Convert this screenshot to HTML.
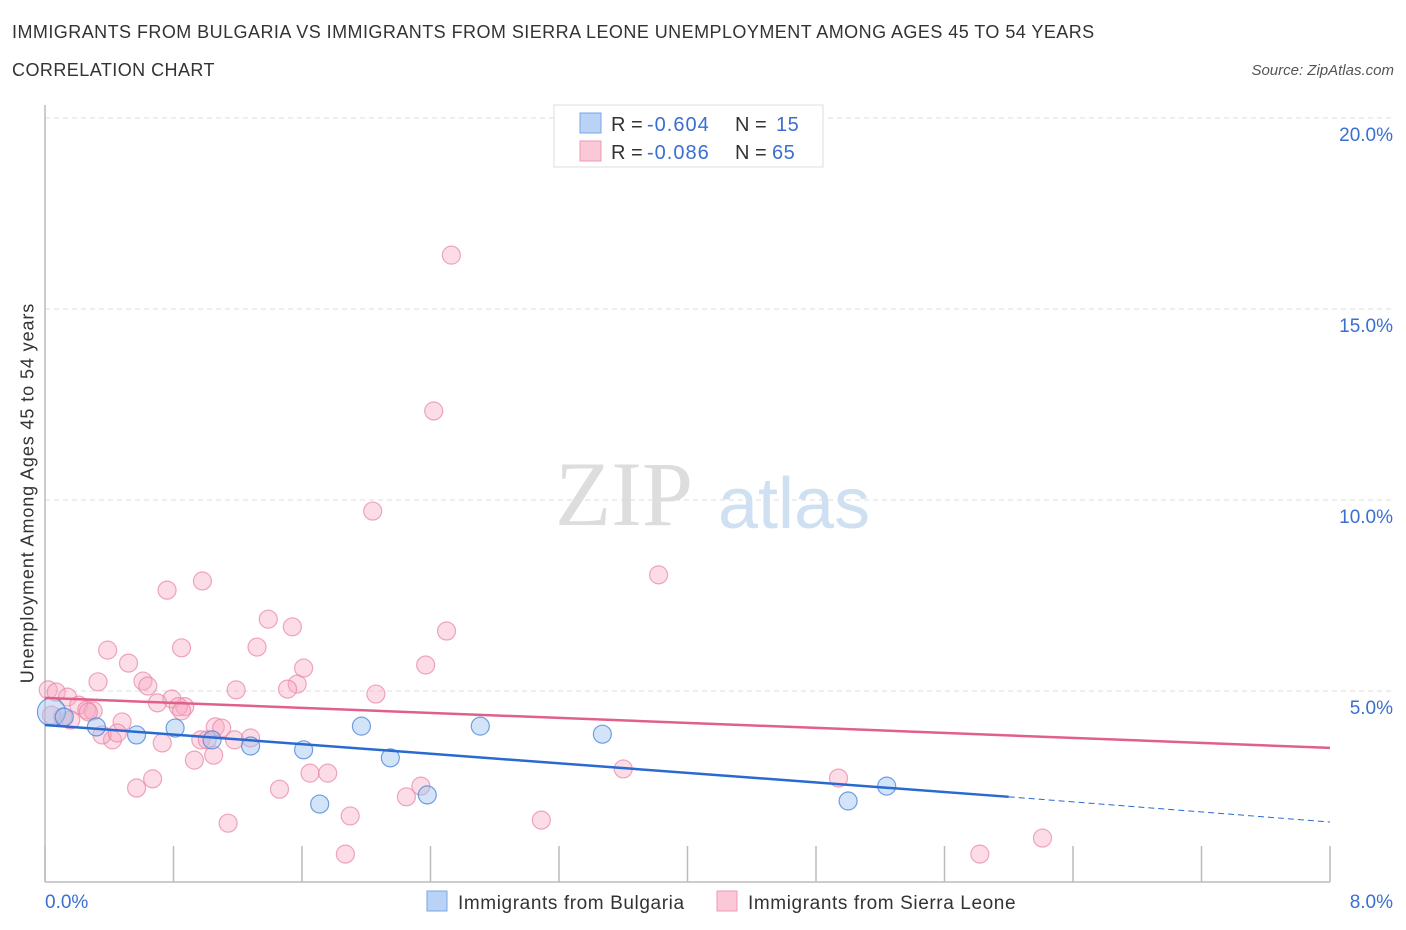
<!DOCTYPE html>
<html><head><meta charset="utf-8">
<style>
body{margin:0;background:#fff;font-family:"Liberation Sans",sans-serif;}
#wrap{position:relative;width:1406px;height:930px;overflow:hidden;}
.t{position:absolute;white-space:nowrap;}
</style></head>
<body>
<div id="wrap">
<div class="t" style="left:12px;top:22px;font-size:18px;letter-spacing:0.45px;color:#333;">IMMIGRANTS FROM BULGARIA VS IMMIGRANTS FROM SIERRA LEONE UNEMPLOYMENT AMONG AGES 45 TO 54 YEARS</div>
<div class="t" style="left:12px;top:60px;font-size:18px;letter-spacing:0.45px;color:#333;">CORRELATION CHART</div>
<div class="t" style="right:12px;top:62px;font-size:15px;color:#555;font-style:italic;">Source: ZipAtlas.com</div>
<svg id="chart" width="1406" height="930" style="position:absolute;left:0;top:0"></svg>
<div class="t" style="left:28px;top:493px;font-size:18px;letter-spacing:0.9px;color:#333;transform:translate(-50%,-50%) rotate(-90deg);">Unemployment Among Ages 45 to 54 years</div>
</div>
<script>
const xTicks=[0,0.8,1.6,2.4,3.2,4.0,4.8,5.6,6.4,7.2,8.0];
const yTicks=[5,10,15,20];
const yTickLabels=["5.0%","10.0%","15.0%","20.0%"];
const xEndLabels=["0.0%","8.0%"];
const pinkX=[0.02,0.07,0.14,0.21,0.26,0.30,0.11,0.16,0.27,0.33,0.39,0.52,0.61,0.64,0.79,0.76,0.98,0.85,0.70,0.48,0.42,0.355,0.57,0.67,0.73,0.87,0.83,0.97,1.01,1.06,1.10,1.05,0.93,1.14,1.19,1.32,1.39,1.54,1.61,1.57,1.51,1.18,1.28,1.46,1.65,1.76,1.90,1.87,2.04,2.06,2.25,2.34,2.37,2.50,2.42,2.53,3.09,3.60,3.82,4.94,5.82,6.21,0.45,0.04,0.85];
const pinkY=[5.03,4.97,4.84,4.63,4.50,4.48,4.32,4.24,4.45,5.24,6.07,5.73,5.26,5.13,4.79,7.64,7.88,6.13,4.69,4.19,3.72,3.85,2.46,2.70,3.64,4.59,4.59,3.72,3.72,4.06,4.03,3.32,3.19,1.54,5.03,6.15,6.88,6.68,5.60,5.18,5.05,3.72,3.77,2.43,2.85,2.85,1.73,0.73,9.71,4.92,2.23,2.51,5.68,6.57,12.33,16.41,1.62,2.96,8.04,2.72,0.73,1.15,3.90,4.37,4.48];
const blueX=[0.04,0.12,0.32,0.57,0.81,1.04,1.28,1.61,1.71,1.97,2.15,2.38,2.71,3.47,5.00,5.24];
const blueY=[4.45,4.32,4.06,3.85,4.03,3.72,3.56,3.46,2.04,4.08,3.25,2.28,4.08,3.87,2.12,2.51];
const pinkTrend=[[0,4.82],[8,3.51]];
const blueTrend=[[0,4.11],[6.0,2.23],[8,1.57]];

const svg=document.getElementById('chart');
const NS='http://www.w3.org/2000/svg';
const X0=45,X1=1330,Y0=882,PPY=38.2;
const sx=v=>X0+(v/8)*(X1-X0);
const sy=v=>Y0-v*PPY;
function mk(tag,attrs,parent){const e=document.createElementNS(NS,tag);for(const k in attrs)e.setAttribute(k,attrs[k]);(parent||svg).appendChild(e);return e;}

let wm=mk('text',{x:555,y:525,'font-size':92,'font-family':'Liberation Serif,serif',fill:'#ddd'});


wm.textContent='ZIP';
let wm2=mk('text',{x:718,y:528,'font-size':72,'font-family':'Liberation Sans,sans-serif',fill:'#cfe0f3'});


wm2.textContent='atlas';

yTicks.forEach((v,i)=>{
 let g=mk('line',{x1:X0,x2:1395,y1:sy(v),y2:sy(v),stroke:'#ddd','stroke-dasharray':'5,4'});
 
 
 let t=mk('text',{x:1393,y:sy(v)+23,'text-anchor':'end','font-size':19,fill:'#3a6fd0','font-family':'Liberation Sans,sans-serif'});
 
 
 t.textContent=yTickLabels[i];
});
let ax=mk('line',{x1:X0,x2:X0,y1:105,y2:Y0,stroke:'#bbb','stroke-width':1.5});


let axx=mk('line',{x1:X0,x2:X1,y1:Y0,y2:Y0,stroke:'#bbb','stroke-width':1.5});


xTicks.forEach(v=>{
 let t=mk('line',{x1:sx(v),x2:sx(v),y1:Y0,y2:Y0-36,stroke:'#bbb','stroke-width':1.5});
 
 
});
[[0,'start',45],[1,'end',1393]].forEach(([i,a,x])=>{
 let t=mk('text',{x:x,y:908,'text-anchor':a,'font-size':19,fill:'#3a6fd0','font-family':'Liberation Sans,sans-serif'});
 
 
 t.textContent=xEndLabels[i];
});

pinkX.forEach((v,i)=>{
 let c=mk('circle',{cx:sx(v),cy:sy(pinkY[i]),r:9,fill:'rgba(248,170,195,0.4)',stroke:'rgba(232,130,165,0.7)','stroke-width':1.2});
 
 
});
blueX.forEach((v,i)=>{
 let c=mk('circle',{cx:sx(v),cy:sy(blueY[i]),r:i==0?14:9,fill:'rgba(160,195,240,0.45)',stroke:'rgba(70,130,215,0.75)','stroke-width':1.2});
 
 
});
let pl=mk('line',{x1:sx(pinkTrend[0][0]),y1:sy(pinkTrend[0][1]),x2:sx(pinkTrend[1][0]),y2:sy(pinkTrend[1][1]),stroke:'#e0608a','stroke-width':2.5});


let bl=mk('line',{x1:sx(blueTrend[0][0]),y1:sy(blueTrend[0][1]),x2:sx(blueTrend[1][0]),y2:sy(blueTrend[1][1]),stroke:'#2a6ad0','stroke-width':2.5});


let bd=mk('line',{x1:sx(blueTrend[1][0]),y1:sy(blueTrend[1][1]),x2:sx(blueTrend[2][0]),y2:sy(blueTrend[2][1]),stroke:'#2a6ad0','stroke-width':1,'stroke-dasharray':'6,4'});



let lg=mk('rect',{x:554,y:105,width:269,height:62,fill:'#fff',stroke:'#ddd'});


[['-0.604','15','#b9d3f7','#7aa6e6',123,776],['-0.086','65','#fbc8d8','#ec9ab5',151,772]].forEach(r=>{
 let s=mk('rect',{x:580,y:r[4]-10,width:21,height:20,fill:r[2],stroke:r[3]});
 
 
 let t=mk('text',{x:611,y:r[4]+8,'font-size':20,'font-family':'Liberation Sans,sans-serif',fill:'#333'});
 
 
 t.innerHTML=`R = <tspan fill="#3a6fd0" x="647" letter-spacing="1">${r[0]}</tspan><tspan x="735">N = </tspan><tspan fill="#3a6fd0" x="${r[5]}" letter-spacing="0.5">${r[1]}</tspan>`;
});
[[427,'#b9d3f7','#7aa6e6','Immigrants from Bulgaria',458],[717,'#fbc8d8','#ec9ab5','Immigrants from Sierra Leone',748]].forEach(l=>{
 let s=mk('rect',{x:l[0],y:891,width:20,height:20,fill:l[1],stroke:l[2]});
 
 
 let t=mk('text',{x:l[4],y:909,'font-size':19,'letter-spacing':'0.6','font-family':'Liberation Sans,sans-serif',fill:'#333'});
 
 
 t.textContent=l[3];
});
</script>
</body></html>
